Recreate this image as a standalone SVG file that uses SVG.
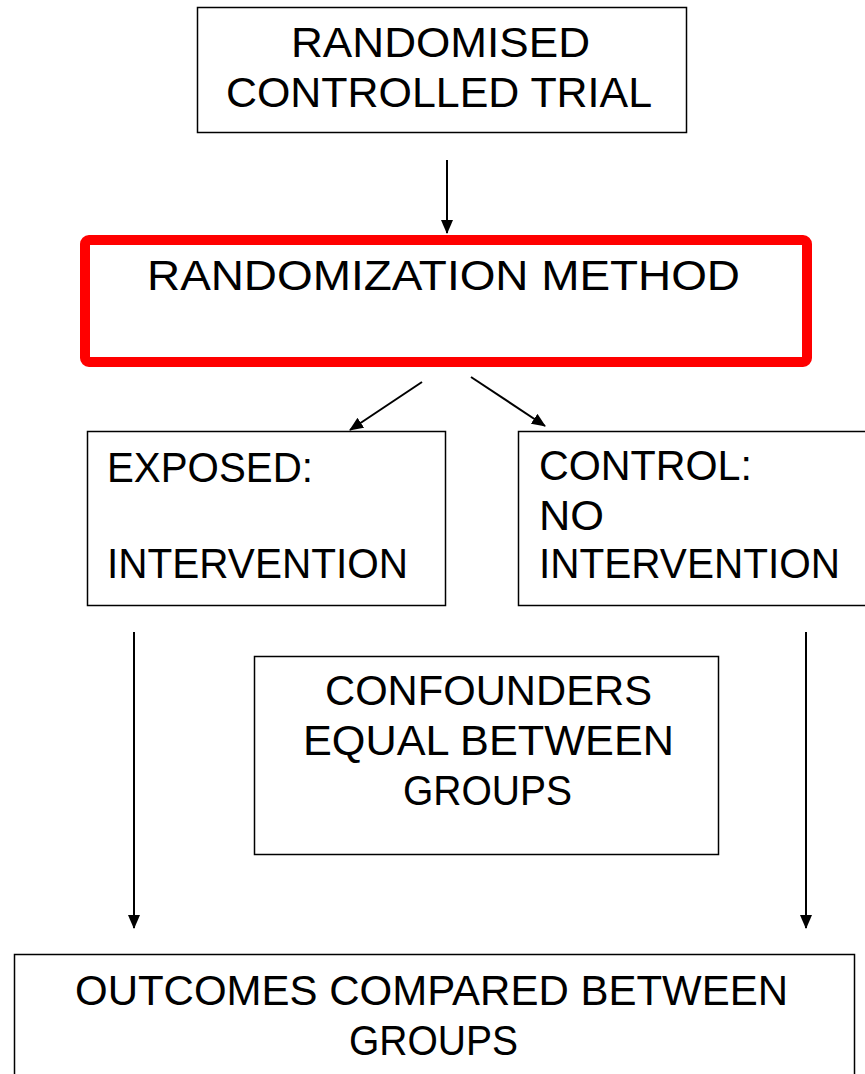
<svg xmlns="http://www.w3.org/2000/svg" width="865" height="1074" viewBox="0 0 865 1074">
<style>
.box{fill:#fff;stroke:#000;stroke-width:1.5}
.red{fill:#fff;stroke:#ff0000;stroke-width:10}
.t{font-family:"Comic Sans MS","Liberation Sans",sans-serif;font-size:43px;fill:#000}
.c{stroke:#000;stroke-width:2;fill:none}
</style>
<defs>
<marker id="ah" viewBox="0 0 14 12" refX="13" refY="6" markerWidth="14" markerHeight="12" markerUnits="userSpaceOnUse" orient="auto">
<path d="M0,0 L14,6 L0,12 Z" fill="#000"/>
</marker>
</defs>
<rect width="865" height="1074" fill="#fff"/>
<g id="connectors">
<line class="c" x1="447" y1="160" x2="447" y2="233" marker-end="url(#ah)"/>
<line class="c" x1="422" y1="382" x2="350" y2="430" marker-end="url(#ah)"/>
<line class="c" x1="471" y1="377" x2="545" y2="426" marker-end="url(#ah)"/>
<line class="c" x1="134" y1="632" x2="134" y2="928" marker-end="url(#ah)"/>
<line class="c" x1="806" y1="632" x2="806" y2="928" marker-end="url(#ah)"/>
</g>
<g id="rct">
<rect class="box" x="197.5" y="7.5" width="489" height="125"/>
<text class="t" x="291" y="57" textLength="299" lengthAdjust="spacingAndGlyphs">RANDOMISED</text>
<text class="t" x="226" y="107" textLength="426" lengthAdjust="spacingAndGlyphs">CONTROLLED TRIAL</text>
</g>
<g id="randomization">
<rect class="red" x="85" y="240" width="722" height="122" rx="4"/>
<text class="t" x="147" y="290" textLength="593" lengthAdjust="spacingAndGlyphs">RANDOMIZATION METHOD</text>
</g>
<g id="exposed">
<rect class="box" x="87.5" y="431.5" width="358" height="174"/>
<text class="t" x="107" y="482" textLength="206" lengthAdjust="spacingAndGlyphs">EXPOSED:</text>
<text class="t" x="107" y="578" textLength="301" lengthAdjust="spacingAndGlyphs">INTERVENTION</text>
</g>
<g id="control">
<rect class="box" x="518.5" y="431.5" width="352" height="174"/>
<text class="t" x="539" y="480" textLength="213" lengthAdjust="spacingAndGlyphs">CONTROL:</text>
<text class="t" x="539" y="530" textLength="65" lengthAdjust="spacingAndGlyphs">NO</text>
<text class="t" x="539" y="578" textLength="301" lengthAdjust="spacingAndGlyphs">INTERVENTION</text>
</g>
<g id="confounders">
<rect class="box" x="254.5" y="656.5" width="464" height="198"/>
<text class="t" x="325" y="705" textLength="327" lengthAdjust="spacingAndGlyphs">CONFOUNDERS</text>
<text class="t" x="303" y="755" textLength="371" lengthAdjust="spacingAndGlyphs">EQUAL BETWEEN</text>
<text class="t" x="403" y="805" textLength="169" lengthAdjust="spacingAndGlyphs">GROUPS</text>
</g>
<g id="outcomes">
<rect class="box" x="14.5" y="954.5" width="840" height="130"/>
<text class="t" x="75" y="1005" textLength="713" lengthAdjust="spacingAndGlyphs">OUTCOMES COMPARED BETWEEN</text>
<text class="t" x="349" y="1055" textLength="169" lengthAdjust="spacingAndGlyphs">GROUPS</text>
</g>
</svg>
